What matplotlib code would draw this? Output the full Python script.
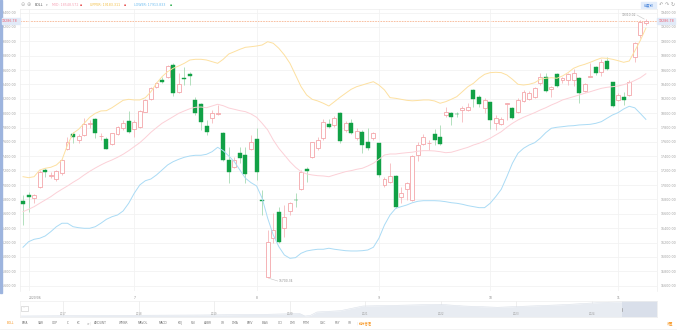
import numpy as np
import matplotlib.pyplot as plt
from matplotlib.patches import Rectangle

plt.rcParams['font.family'] = ['DejaVu Sans', 'Noto Sans CJK SC']

# daily OHLC, 2020/06 .. 2020/11
opens = [16778, 16866, 16815, 16969, 17205, 17126, 17084, 17163, 17502, 17710,
         17627, 17697, 17854, 17915, 17683, 17641, 17571, 17706, 17790, 17891,
         17776, 17804, 18021, 18193, 18360, 18462, 18508, 18671, 18291, 18486,
         18541, 18184, 18124, 17826, 17929, 17989, 17729, 17349, 17255, 17442,
         17418, 17498, 17641, 16788, 15716, 16259, 16621, 16398, 16643, 16796,
         16941, 17219, 17395, 17511, 17651, 17850, 17836, 17998, 17766, 17868,
         17651, 17742, 17603, 17651, 17581, 17001, 17047, 17130, 16838, 16941,
         16792, 17418, 17571, 17585, 17706, 17664, 17975, 17998, 17993, 18044,
         18044, 18323, 18230, 18068, 18152, 17868, 17850, 18132, 18076, 18021,
         18174, 18193, 18230, 18416, 18508, 18332, 18541, 18462, 18462, 18462,
         18494, 18313, 18500, 18647, 18578, 18726, 18430, 18184, 18221, 18253,
         18782, 19088, 19251]
highs = [16861, 16907, 16875, 17209, 17233, 17186, 17209, 17358, 17664, 17742,
         17710, 17929, 17905, 17929, 17720, 17673, 17729, 17822, 17905, 18031,
         17905, 18044, 18198, 18369, 18438, 18508, 18671, 18694, 18555, 18639,
         18578, 18230, 18138, 17905, 18044, 18114, 17742, 17534, 17394, 17534,
         17534, 17697, 17790, 16931, 16374, 16607, 16699, 16722, 16768, 16885,
         17209, 17255, 17603, 17664, 17915, 17915, 17961, 18021, 17896, 17915,
         17790, 17766, 17790, 17742, 17589, 17116, 17303, 17140, 16977, 17047,
         17418, 17603, 17710, 17627, 17776, 17836, 18090, 18021, 18021, 18100,
         18146, 18332, 18253, 18207, 18160, 17975, 17943, 18146, 18090, 18207,
         18323, 18309, 18369, 18555, 18564, 18378, 18555, 18508, 18564, 18611,
         18508, 18424, 18694, 18657, 18750, 18786, 18438, 18277, 18299, 18462,
         18995, 19297, 19310.02]
lows = [16444, 16629, 16754, 16955, 17116, 17094, 17060, 17140, 17488, 17581,
        17589, 17683, 17790, 17651, 17627, 17498, 17557, 17697, 17766, 17720,
        17664, 17794, 18012, 18184, 18346, 18416, 18490, 18239, 18277, 18392,
        18392, 17975, 17766, 17697, 17859, 17975, 17339, 17033, 17233, 17303,
        17024, 17488, 17070, 16583, 15700.34, 16189, 16189, 16281, 16583, 16699,
        16931, 17047, 17372, 17488, 17627, 17790, 17812, 17589, 17742, 17710,
        17627, 17442, 17488, 17627, 17116, 16977, 17024, 16676, 16746, 16792,
        16782, 17339, 17557, 17488, 17557, 17557, 17951, 17836, 17951, 17882,
        18035, 18090, 18082, 17998, 17776, 17766, 17836, 17905, 17915, 17998,
        18160, 18184, 18211, 18392, 18299, 18230, 18369, 18416, 18392, 18378,
        18146, 18299, 18500, 18532, 18518, 18601, 18090, 18174, 18114, 18243,
        18717, 19047, 19227]
closes = [16736, 16829, 16861, 17186, 17177, 17136, 17195, 17349, 17603, 17673,
          17687, 17854, 17859, 17729, 17687, 17502, 17720, 17804, 17859, 17738,
          17882, 18035, 18184, 18355, 18416, 18430, 18657, 18285, 18402, 18476,
          18514, 17998, 17873, 17734, 18007, 17998, 17349, 17186, 17349, 17372,
          17154, 17603, 17186, 16778, 16203, 16374, 16203, 16551, 16746, 16788,
          17186, 17200, 17595, 17627, 17882, 17812, 17929, 17617, 17868, 17729,
          17756, 17557, 17511, 17720, 17140, 17080, 17126, 16699, 16885, 17024,
          17404, 17557, 17673, 17589, 17627, 17571, 18021, 17951, 17985, 18076,
          18082, 18193, 18128, 18184, 17905, 17929, 17915, 18138, 17929, 18184,
          18295, 18285, 18346, 18500, 18313, 18360, 18378, 18486, 18541, 18564,
          18285, 18406, 18518, 18564, 18708, 18611, 18100, 18253, 18184, 18438,
          18981, 19273, 19286.78]

# BOLL bands
upper = [17116, 17102, 17116, 17209, 17233, 17247, 17279, 17349, 17557, 17720,
         17776, 17859, 17943, 17998, 18031, 18035, 18076, 18128, 18179, 18193,
         18184, 18184, 18216, 18299, 18416, 18508, 18578, 18625, 18657, 18694,
         18740, 18750, 18750, 18740, 18717, 18694, 18750, 18824, 18856, 18889,
         18917, 18925, 18935, 18949, 18995, 18973, 18903, 18810, 18694, 18532,
         18369, 18253, 18193, 18170, 18138, 18100, 18160, 18221, 18277, 18332,
         18369, 18392, 18416, 18438, 18392, 18323, 18216, 18207, 18193, 18179,
         18172, 18177, 18184, 18184, 18170, 18138, 18160, 18193, 18230, 18299,
         18369, 18416, 18486, 18541, 18564, 18569, 18564, 18532, 18472, 18402,
         18392, 18402, 18424, 18472, 18486, 18494, 18486, 18518, 18564, 18625,
         18657, 18680, 18708, 18740, 18768, 18764, 18750, 18731, 18708, 18726,
         18866, 19012, 19183.311]
mid = [16629, 16662, 16699, 16746, 16792, 16838, 16893, 16941, 16987, 17038,
       17084, 17140, 17191, 17237, 17279, 17317, 17349, 17386, 17428, 17478,
       17534, 17589, 17659, 17734, 17798, 17859, 17905, 17951, 17998, 18031,
       18062, 18082, 18086, 18076, 18100, 18124, 18104, 18072, 18054, 18035,
       18021, 17989, 17943, 17859, 17766, 17627, 17511, 17418, 17325, 17247,
       17186, 17154, 17140, 17130, 17126, 17116, 17140, 17163, 17186, 17200,
       17219, 17233, 17265, 17303, 17358, 17418, 17432, 17432, 17442, 17450,
       17457, 17471, 17478, 17478, 17474, 17464, 17450, 17456, 17478, 17502,
       17525, 17557, 17581, 17613, 17651, 17697, 17742, 17804, 17859, 17905,
       17943, 17975, 18007, 18044, 18076, 18114, 18146, 18184, 18207, 18230,
       18253, 18277, 18299, 18323, 18346, 18360, 18369, 18378, 18397, 18420,
       18455, 18493, 18548.572]
lower = [16134, 16211, 16245, 16259, 16291, 16351, 16420, 16468, 16468, 16420,
         16406, 16398, 16398, 16420, 16468, 16523, 16559, 16583, 16639, 16746,
         16885, 17001, 17060, 17084, 17140, 17209, 17279, 17325, 17358, 17386,
         17404, 17414, 17414, 17428, 17464, 17525, 17478, 17404, 17325, 17209,
         17094, 17033, 16987, 16816, 16537, 16305, 16142, 16026, 15980, 15989,
         16050, 16082, 16096, 16106, 16106, 16120, 16106, 16096, 16086, 16082,
         16082, 16086, 16096, 16134, 16259, 16444, 16583, 16674, 16699, 16722,
         16753, 16774, 16782, 16782, 16782, 16778, 16768, 16754, 16746, 16732,
         16713, 16699, 16685, 16685, 16746, 16838, 16941, 17116, 17303, 17442,
         17511, 17557, 17589, 17651, 17729, 17790, 17804, 17812, 17822, 17826,
         17836, 17840, 17845, 17859, 17882, 17929, 17975, 18007, 18058, 18096,
         18075, 17996, 17913.833]

month_idx = [1, 20, 42, 64, 84, 107]
month_labels = ['2020/06', '7', '8', '9', '10', '11']

# navigator overview series
nav_year = [2016.44, 2017.05, 2017.93, 2018.81, 2019.70, 2020.13, 2020.20, 2020.27,
            2020.36, 2020.67, 2020.97, 2021.42, 2021.99, 2022.30, 2022.75, 2023.18,
            2023.62, 2024.07, 2024.41, 2024.86]
nav_level = [1.0, 1.3, 1.7, 2.0, 2.7, 3.5, 1.0, 1.5, 5.0, 6.3, 11.0, 11.7, 12.7,
             11.0, 9.7, 11.0, 12.3, 14.3, 15.3, 16.0]
nav_years = [2017, 2018, 2019, 2020, 2021, 2022, 2023, 2024]
nav_window = (2024.40, 2024.86)

tabs = [('BOLL', 7), ('EMA', 22), ('SAR', 38), ('CDP', 52), ('IC', 67), ('KC', 77),
        ('>', 87), ('AMOUNT', 94), ('WMSR', 119), ('MAVOL', 138), ('MACD', 159),
        ('KDJ', 178), ('RSI', 191), ('ARBR', 204), ('CR', 221), ('DMA', 232),
        ('EMV', 247), ('BIAS', 262), ('CCI', 278), ('DMI', 290), ('MTM', 303),
        ('OSC', 320), ('PSY', 335), ('VR', 348)]

W, H = 677, 334
fig = plt.figure(figsize=(W / 100, H / 100), dpi=100)
fig.patch.set_facecolor('white')

def fx(x):
    return x / W

def fy(y):
    return 1 - y / H

RED = '#f4a6aa'
GREEN = '#11a146'

ax = fig.add_axes([fx(20), fy(291), 637 / W, 282 / H])
idx = np.arange(len(opens))
o = np.array(opens); c = np.array(closes)
hi = np.array(highs); lo = np.array(lows)
up = c >= o
wick_col = np.where(up, '#f6b8bb', '#a6dab3')
ax.vlines(idx, lo, hi, colors=wick_col, lw=0.6, zorder=2)
ax.bar(idx[up], c[up] - o[up], bottom=o[up], width=0.7, facecolor='white',
       edgecolor=RED, lw=0.6, zorder=3)
ax.bar(idx[~up], o[~up] - c[~up], bottom=c[~up], width=0.72, color=GREEN,
       edgecolor=GREEN, lw=0.3, zorder=3)

ax.plot(idx, upper, color='#fde0a0', lw=0.7, zorder=4)
ax.plot(idx, mid, color='#fcd0d7', lw=0.7, zorder=4)
ax.plot(idx, lower, color='#aadbf5', lw=0.7, zorder=4)

last = closes[-1]
ax.axhline(last, color='#f7b592', lw=0.6, ls=(0, (2, 1.2)), zorder=1)

ax.set_xlim(-0.54, 114.0)
ax.set_ylim(15525, 19450)
ax.set_yticks(np.arange(15600, 19401, 200))
ax.set_yticklabels(['%.2f' % v for v in np.arange(15600, 19401, 200)])
ax.tick_params(axis='y', length=0, labelsize=2.3, labelcolor='#a0a0a0',
               labelleft=True, labelright=True, pad=2.4)
ax.set_xticks(month_idx)
ax.set_xticklabels(month_labels)
ax.get_xticklabels()[0].set_ha('left')
ax.tick_params(axis='x', length=0, labelsize=2.2, labelcolor='#8a8a8a', pad=3.4)
ax.grid(True, color='#f2f2f2', lw=0.6, zorder=0)
for s in ['left', 'right', 'top']:
    ax.spines[s].set_color('#ededed')
    ax.spines[s].set_linewidth(0.5)
ax.spines['bottom'].set_visible(False)

# max / min markers
imax = int(np.argmax(hi)); imin = int(np.argmin(lo))
ax.plot([imax - 0.3, imax - 1.6], [hi[imax], 19366], color='#c4c4c4', lw=0.4)
ax.text(imax - 1.7, 19366, '%.2f' % hi[imax], fontsize=2.2, color='#909090',
        ha='right', va='center')
ax.plot([imin + 0.3, imin + 1.8], [lo[imin], 15664], color='#c4c4c4', lw=0.4)
ax.text(imin + 1.9, 15664, '%.2f' % lo[imin], fontsize=2.2, color='#909090',
        ha='left', va='center')

# current price tags
py = 291 - (last - 15525) / (19450 - 15525) * 282
for x0 in (2, 657):
    fig.patches.append(Rectangle((fx(x0), fy(py + 3.2)), 18 / W, 6.4 / H,
                                 transform=fig.transFigure, color='#e1eaf8', zorder=5))
fig.text(fx(17.6), fy(py), '%.2f' % last, fontsize=2.3, color='#ef5a6c',
         ha='right', va='center', zorder=6)
fig.text(fx(659), fy(py), '%.2f' % last, fontsize=2.3, color='#ef5a6c',
         ha='left', va='center', zorder=6)

# left blue edge
fig.patches.append(Rectangle((0, fy(293)), 1.6 / W, 293 / H,
                             transform=fig.transFigure, color='#9db4de'))

# top legend bar
fig.text(fx(23), fy(5), '⊖', fontsize=3.6, color='#b0b0b0', ha='center', va='center')
fig.text(fx(29), fy(5), '⊕', fontsize=3.6, color='#b0b0b0', ha='center', va='center')
fig.text(fx(35), fy(5), 'BOLL', fontsize=2.3, color='#555555', va='center')
fig.text(fx(46), fy(5), '▾', fontsize=2.3, color='#999999', va='center')
leg = [('MID: %.3f' % mid[-1], '#f6a2b4', 52, 80, '#e65454'),
       ('UPPER: %.3f' % upper[-1], '#f3bf45', 90, 124, '#e65454'),
       ('LOWER: %.3f' % lower[-1], '#6ebdf0', 134, 170, '#3cb35a')]
for txt, col, x0, xs, scol in leg:
    fig.text(fx(x0), fy(5), txt, fontsize=2.3, color=col, va='center')
    fig.text(fx(xs), fy(5), '■', fontsize=1.6, color=scol, va='center')

fig.patches.append(Rectangle((fx(641), fy(8)), 15 / W, 6 / H,
                             transform=fig.transFigure, color='#e3edfb'))
fig.text(fx(648.5), fy(5), '前复权', fontsize=2.4, color='#3f7fd8', ha='center',
         va='center', family='Noto Sans CJK SC')
for xi, sym in zip([661, 667, 673], ['↶', '↷', '↻']):
    fig.text(fx(xi), fy(5), sym, fontsize=3.6, color='#a0a0a0', ha='center', va='center')

# navigator
nav = fig.add_axes([fx(20), fy(317), 637 / W, 16.3 / H])
nav.fill_between(nav_year, 0, nav_level, color='#e8ecf2', lw=0)
nav.plot(nav_year, nav_level, color='#dae0e9', lw=0.4)
for yr in nav_years:
    nav.axvline(yr, color='#e9e9e9', lw=0.5, zorder=0)
    nav.text(yr, 2.8, str(yr), fontsize=1.9, color='#999999', ha='center', va='center')
nav.axvspan(nav_window[0], nav_window[1], color='#cdd6e4', alpha=0.55, lw=0)
for xw in nav_window:
    nav.plot([xw, xw], [6.5, 9.5], color='#9a9a9a', lw=0.5)
nav.set_xlim(2016.43, 2024.86)
nav.set_ylim(0, 16.3)
nav.set_xticks([]); nav.set_yticks([])
for s in nav.spines.values():
    s.set_color('#eeeeee'); s.set_linewidth(0.5)
fig.patches.append(Rectangle((fx(21), fy(310.5)), 6.5 / W, 4.5 / H,
                             transform=fig.transFigure, facecolor='white',
                             edgecolor='#c8c8c8', lw=0.4))
fig.text(fx(24.2), fy(308.3), '···', fontsize=2.2, color='#aaaaaa', ha='center', va='center')

# indicator tabs
for name, x0 in tabs:
    col = '#f7941d' if name == 'BOLL' else '#777777'
    fig.text(fx(x0), fy(323.3), name, fontsize=2.2, color=col, va='center')
fig.text(fx(90), fy(323.3), '|', fontsize=2.4, color='#dddddd', va='center')
fig.text(fx(357), fy(323.3), '|', fontsize=2.4, color='#dddddd', va='center')
fig.text(fx(359), fy(323.3), '指标管理', fontsize=2.3, color='#f7941d', va='center',
         family='Noto Sans CJK SC')
fig.text(fx(667), fy(323.3), '设置', fontsize=2.3, color='#f7941d', va='center',
         family='Noto Sans CJK SC')
fig.lines.append(plt.Line2D([0, 1], [fy(328.5), fy(328.5)], transform=fig.transFigure,
                            color='#eeeeee', lw=0.5))

fig.savefig('out.png', dpi=100)
